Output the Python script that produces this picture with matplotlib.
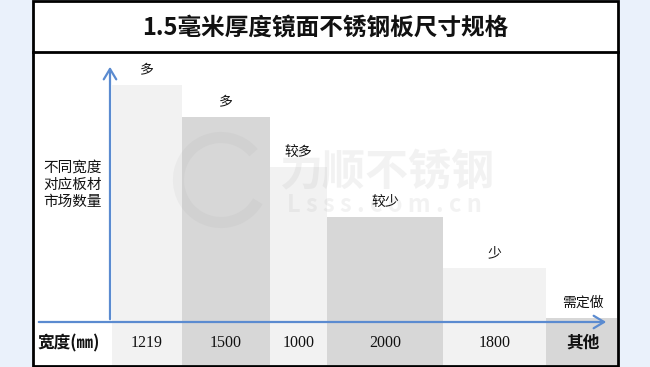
import matplotlib
matplotlib.use("Agg")
import matplotlib.pyplot as plt
import numpy as np
from matplotlib.patches import Rectangle, FancyArrowPatch, Arc

plt.rcParams['font.family'] = ['Noto Sans CJK SC', 'DejaVu Sans']

# ---- data ----
title = "1.5毫米厚度镜面不锈钢板尺寸规格"
categories = ["1219", "1500", "1000", "2000", "1800", "其他"]
values = [237, 205, 155, 105, 54, 4]          # relative market quantity
bar_labels = ["多", "多", "较多", "较少", "少", "需定做"]
ylabel = "不同宽度\n对应板材\n市场数量"
xlabel = "宽度(㎜)"

# ---- layout (pixels, figure 650x367) ----
W, H = 650, 367
col_widths = [70, 88, 57, 116, 103, 73]
first_edge = 79          # offset of first column inside the axes
below = 43               # label row height under the axis
bar_colors = ["#F2F2F2", "#D7D7D7", "#F2F2F2", "#D7D7D7", "#F2F2F2", "#D7D7D7"]

fig = plt.figure(figsize=(6.5, 3.67), dpi=100)
fig.patch.set_facecolor("#EAF1FB")

def fx(x): return x / W
def fy(y): return 1 - y / H

# white chart box (behind the axes)
fig.patches.append(Rectangle((fx(33), fy(366)), fx(618) - fx(33), fy(1) - fy(366),
                             transform=fig.transFigure, facecolor="white",
                             edgecolor="none", zorder=-5))
# frame on top
fig.patches.append(Rectangle((fx(33), fy(366)), fx(618) - fx(33), fy(1) - fy(366),
                             transform=fig.transFigure, facecolor="none",
                             edgecolor="black", linewidth=2, zorder=10))
# title separator
fig.add_artist(plt.Line2D([fx(33), fx(618)], [fy(52), fy(52)], color="black",
                          linewidth=2, transform=fig.transFigure, zorder=10))
fig.text(0.5, fy(28), title, ha="center", va="center", fontsize=17,
         fontweight="bold", color="#111111")

ax = fig.add_axes([fx(33), fy(365), fx(617) - fx(33), fy(53) - fy(365)])
ax.set_xlim(0, 584)
ax.set_ylim(-below, 312 - below)
ax.axis("off")

edges = first_edge + np.concatenate([[0], np.cumsum(col_widths)[:-1]])
centers = edges + np.array(col_widths) / 2
ax.bar(edges, np.array(values) + below, bottom=-below, width=col_widths,
       align="edge", color=bar_colors, linewidth=0, zorder=1)

# watermark
ax.text(centers[2] + 88, 150, "力顺不锈钢", ha="center", va="center", fontsize=31,
        fontweight="bold", color="#9A9A9A", alpha=0.12, zorder=2)
ax.text(centers[2] + 86, 117, "L s s s . c o m . c n", ha="center", va="center",
        fontsize=17, fontweight="bold", color="#9A9A9A", alpha=0.12, zorder=2)
ax.add_patch(Arc((188, 142), 85, 85, theta1=40, theta2=330, linewidth=8,
                 color="#9A9A9A", alpha=0.09, zorder=2))

# axes arrows
ax.add_patch(FancyArrowPatch((3, 0), (576, 0), arrowstyle="->,head_length=5,head_width=3",
                             color="#5B8BD0", linewidth=1.6, mutation_scale=1.5, zorder=3))
ax.add_patch(FancyArrowPatch((first_edge - 2, 0), (first_edge - 2, 258),
                             arrowstyle="->,head_length=5,head_width=3",
                             color="#5B8BD0", linewidth=1.6, mutation_scale=1.5, zorder=3))

# bar labels
for c, v, lab in zip(centers, values, bar_labels):
    ax.annotate(lab, (c, v), xytext=(0, 15), textcoords="offset pixels",
                ha="center", va="center", fontsize=10, color="#111111", zorder=4)

# category labels
for c, cat in zip(centers, categories):
    if cat.isdigit():
        ax.text(c, -21, cat, ha="center", va="center", fontsize=11.5,
                family="Liberation Serif", color="#111111", zorder=4)
    else:
        ax.text(c, -21, cat, ha="center", va="center", fontsize=12,
                fontweight="bold", color="#111111", zorder=4)
ax.text(4, -21, xlabel, ha="left", va="center", fontsize=12, fontweight="bold",
        color="#111111", zorder=4)

# y label
ax.text(10, 137, ylabel, ha="left", va="center", fontsize=10.5, linespacing=1.3,
        color="#111111", zorder=4)

fig.savefig("out.png", dpi=100, facecolor=fig.get_facecolor())
